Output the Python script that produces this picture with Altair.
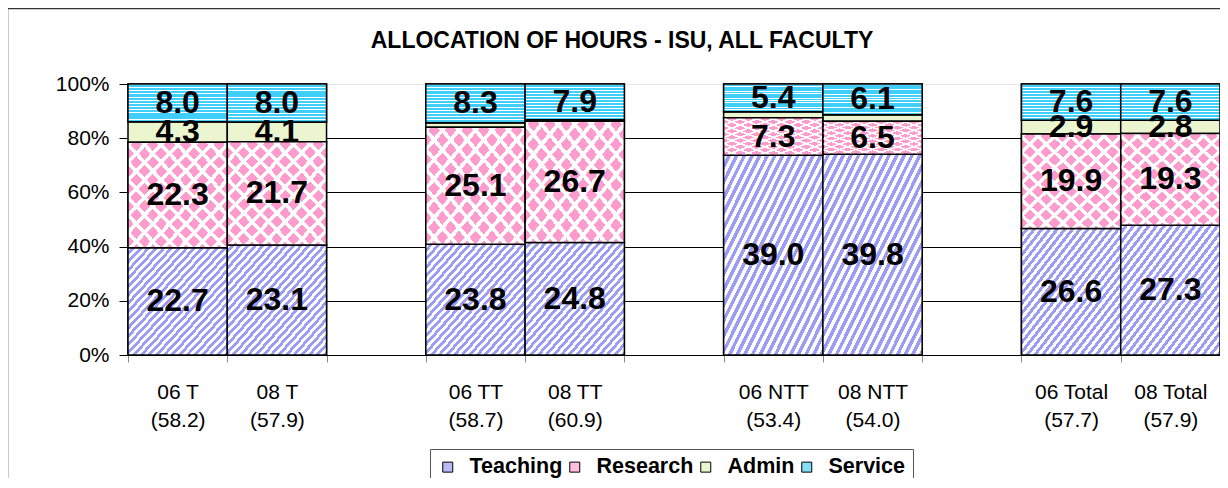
import altair as alt
import pandas as pd

# ---- data ----
groups = ["06 T", "08 T", "06 TT", "08 TT", "06 NTT", "08 NTT", "06 Total", "08 Total"]
totals = ["(58.2)", "(57.9)", "(58.7)", "(60.9)", "(53.4)", "(54.0)", "(57.7)", "(57.9)"]
teaching = [22.7, 23.1, 23.8, 24.8, 39.0, 39.8, 26.6, 27.3]
research = [22.3, 21.7, 25.1, 26.7, 7.3, 6.5, 19.9, 19.3]
admin = [4.3, 4.1, 1.0, 0.3, 1.2, 1.3, 2.9, 2.8]
service = [8.0, 8.0, 8.3, 7.9, 5.4, 6.1, 7.6, 7.6]
admin_label_shown = [True, True, False, False, False, False, True, True]

components = ["Teaching", "Research", "Admin", "Service"]
colors = ["#B9B9F6", "#FDBEDF", "#EBF5CF", "#86DDFA"]

# category axis with empty gaps between the pairs
cat_keys = [f"{g}|{t}" for g, t in zip(groups, totals)]
domain = [cat_keys[0], cat_keys[1], " ",
          cat_keys[2], cat_keys[3], "  ",
          cat_keys[4], cat_keys[5], "   ",
          cat_keys[6], cat_keys[7]]

rows = []
series = {"Teaching": teaching, "Research": research, "Admin": admin, "Service": service}
for i, key in enumerate(cat_keys):
    for j, comp in enumerate(components):
        show = True
        if comp == "Admin" and not admin_label_shown[i]:
            show = False
        rows.append({"cat": key, "comp": comp, "ord": j,
                     "value": series[comp][i], "show": show})
df = pd.DataFrame(rows)

FONT = "Liberation Sans"
CLEAR = "rgba(255,255,255,0)"


def stripes(n, color, back="#FFFFFF", frac=0.5, x1=0, y1=0, x2=0, y2=1):
    """Hard-edged striped linear gradient (fill style imitating Excel hatching)."""
    stops = []
    for k in range(n):
        a = k / n
        b = (k + frac) / n
        c = (k + 1) / n
        stops += [{"offset": a, "color": back}, {"offset": b, "color": back},
                  {"offset": b, "color": color}, {"offset": c, "color": color}]
    return {"gradient": "linear", "x1": x1, "y1": y1, "x2": x2, "y2": y2, "stops": stops}


teach_fill = stripes(26, "#9C9CF6", frac=0.5, x1=0, y1=0, x2=1, y2=1)
serv_fill = stripes(12, "#3FCFFA", frac=0.3, x1=0, y1=0, x2=0, y2=1)
# research: pink base with a white diagonal lattice -> pink diamonds
res_base = "#FF9CCD"
res_lat1 = stripes(12, CLEAR, back="#FFFFFF", frac=0.3, x1=0, y1=0, x2=1, y2=1)
res_lat2 = stripes(12, CLEAR, back="#FFFFFF", frac=0.3, x1=1, y1=0, x2=0, y2=1)

x_enc = alt.X("cat:N", sort=domain,
              scale=alt.Scale(domain=domain, paddingInner=0, paddingOuter=0),
              axis=alt.Axis(title=None, labelAngle=0,
                            labelExpr="isValid(datum.value) ? split(datum.value, '|') : ''",
                            labelFontSize=21, labelColor="black", labelLineHeight=28,
                            labelBaseline="top", labelPadding=19,
                            tickBand="extent", tickSize=7, tickColor="#888888",
                            domainColor="black", domainWidth=1, grid=False))

bars = alt.Chart(df).mark_bar(stroke="black", strokeWidth=1.5).encode(
    x=x_enc,
    y=alt.Y("value:Q", stack="normalize",
            scale=alt.Scale(domain=[0, 1]),
            axis=alt.Axis(title=None, format="%", values=[0, 0.2, 0.4, 0.6, 0.8, 1.0],
                          labelFontSize=21, labelColor="black", labelPadding=10,
                          tickSize=9, tickColor="black", domainColor="black",
                          gridColor={"condition": {"test": "datum.value == 1", "value": "#e6e6e6"},
                                     "value": "black"},
                          gridWidth=1)),
    color=alt.Color("comp:N", sort=components,
                    scale=alt.Scale(domain=components, range=colors),
                    legend=alt.Legend(title=None, orient="none", legendX=302, legendY=365,
                                      direction="horizontal", labelFontSize=21.5,
                                      labelFontWeight="bold", labelColor="black",
                                      symbolType="square", symbolSize=100,
                                      symbolStrokeColor="black", symbolStrokeWidth=1,
                                      symbolOpacity=1,
                                      labelOffset=11, columnPadding=1,
                                      strokeColor="#555555", padding=7)),
    order=alt.Order("ord:Q", sort="ascending"),
)


def stacked():
    return alt.Chart(df).transform_stack(
        stack="value", groupby=["cat"], sort=[alt.SortField("ord", order="ascending")],
        as_=["y0", "y1"], offset="normalize"
    )


def overlay(comp, fill, stroke=True):
    props = dict(fill=fill)
    if stroke:
        props.update(stroke="black", strokeWidth=1.5)
    else:
        props.update(strokeWidth=0)
    return stacked().transform_filter(
        alt.datum.comp == comp
    ).mark_bar(**props).encode(
        x=alt.X("cat:N", sort=domain),
        y=alt.Y("y0:Q"),
        y2=alt.Y2("y1:Q"),
    )


labels = stacked().transform_calculate(
    mid="(datum.y0 + datum.y1) / 2"
).transform_filter(
    "datum.show"
).mark_text(fontSize=32, fontWeight="bold", color="black", baseline="middle").encode(
    x=alt.X("cat:N", sort=domain),
    y=alt.Y("mid:Q"),
    text=alt.Text("value:Q", format=".1f"),
)

frame = alt.Chart(pd.DataFrame({"f": [0]})).mark_rect(
    fill=None, stroke="#333333", strokeWidth=1.5
).encode(
    x=alt.value(-120.5), x2=alt.value(1200),
    y=alt.value(-75.5), y2=alt.value(500),
)

chart = alt.layer(
    frame, bars,
    overlay("Teaching", teach_fill),
    overlay("Service", serv_fill),
    overlay("Research", res_base, stroke=False),
    overlay("Research", res_lat1, stroke=False),
    overlay("Research", res_lat2),
    labels
).properties(
    width=1092, height=271,
    autosize=alt.AutoSizeParams(type="none"),
    padding={"left": 120, "top": 76, "right": 0, "bottom": 123},
    title=alt.TitleParams("ALLOCATION OF HOURS - ISU, ALL FACULTY",
                          fontSize=23, fontWeight="bold", color="black",
                          anchor="middle", frame="group", dx=-52,
                          baseline="alphabetic", offset=-63),
).configure(
    font=FONT,
).configure_view(
    stroke=None,
)

chart.save("out.html", embed_options={"renderer": "svg", "actions": False})
